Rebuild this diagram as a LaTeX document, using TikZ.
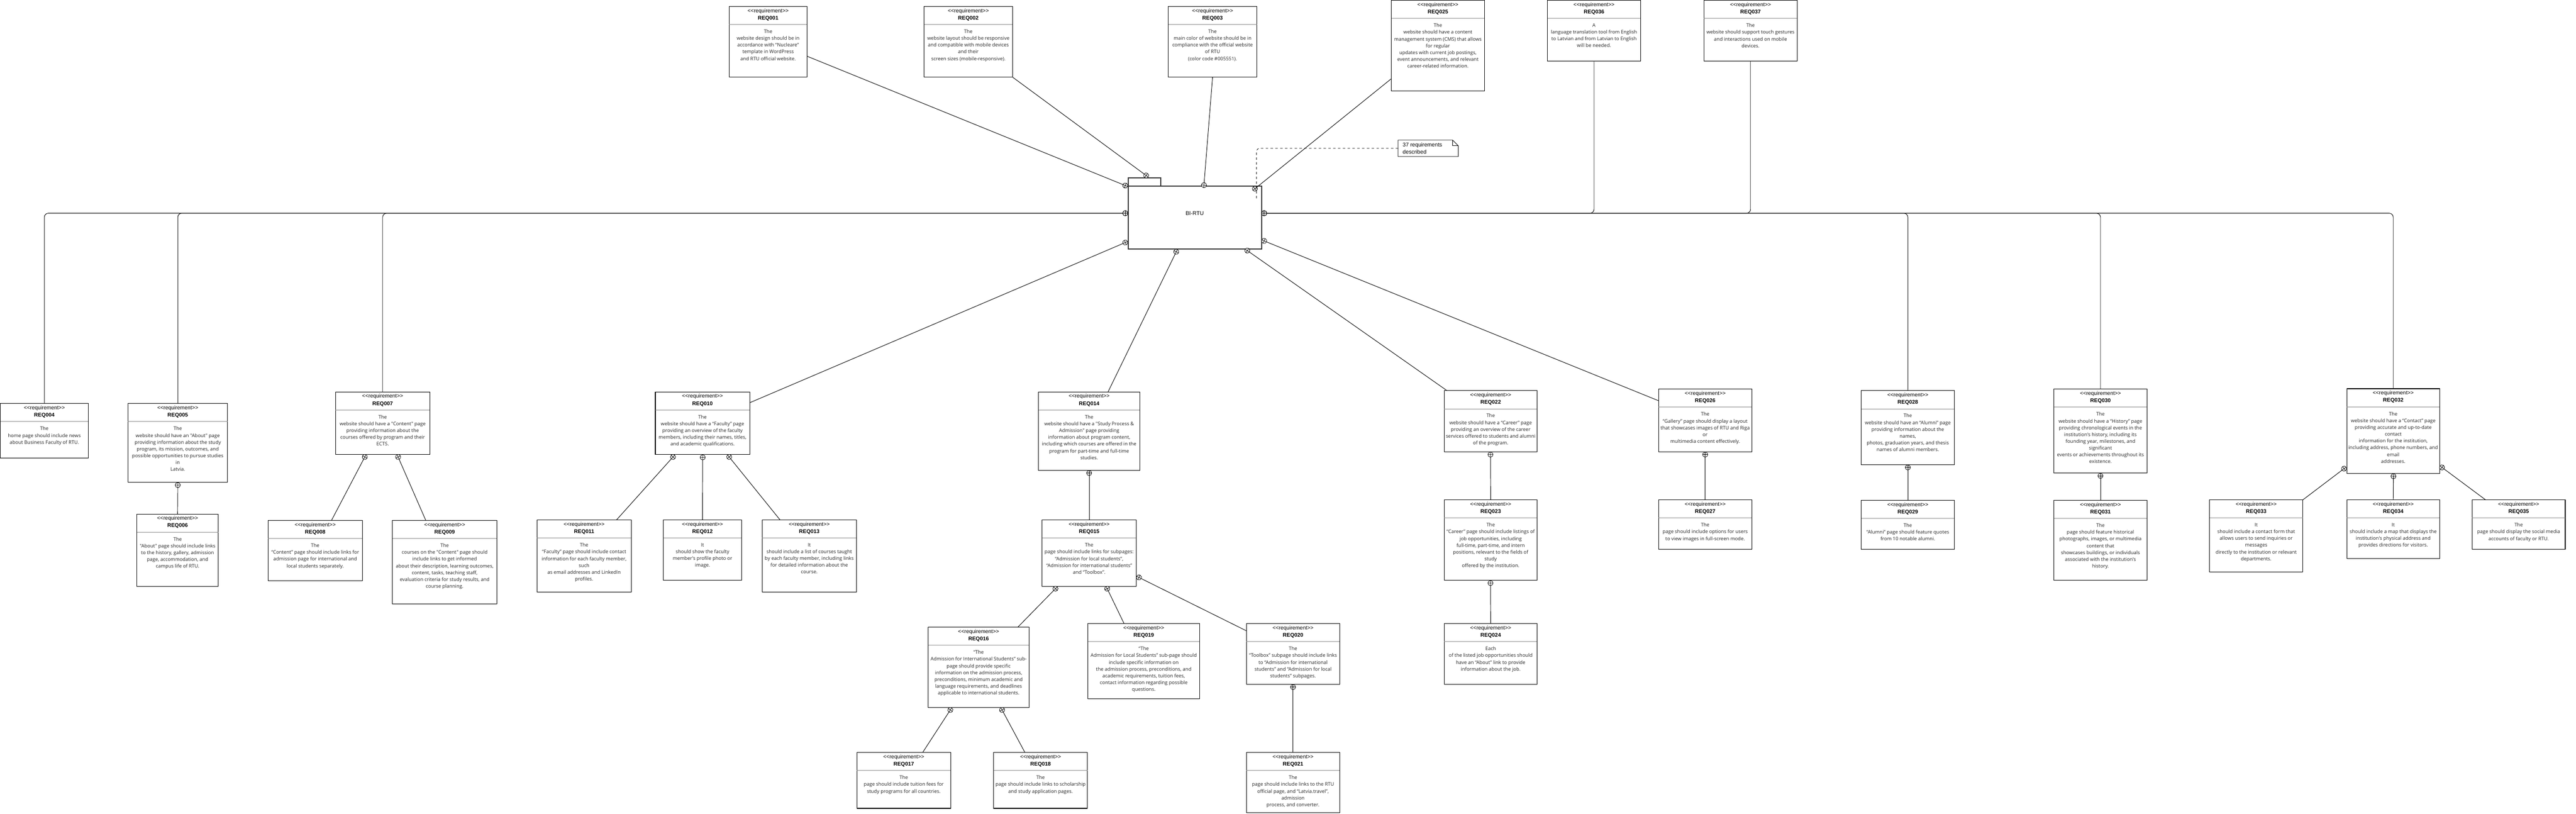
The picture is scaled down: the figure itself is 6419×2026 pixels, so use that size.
\documentclass[tikz,border=0pt]{standalone}
\usepackage{fontspec}
\setmainfont{Liberation Sans}[Ligatures=TeXOff]
\newfontfamily\bodyfont{Open Sans}[Ligatures=TeXOff]
\usetikzlibrary{calc,decorations.markings}
\tikzset{
 rq/.style={draw=black, line width=0.7pt, fill=white, inner sep=0pt, outer sep=0pt},
 rqsep/.style={draw=black!45, line width=0.6pt},
 rqhead/.style={font=\fontsize{6.65pt}{8pt}\selectfont, inner sep=0pt, anchor=base},
 rqname/.style={font=\fontsize{6.65pt}{8pt}\selectfont\bfseries, inner sep=0pt, anchor=base},
 rqbody/.style={font=\bodyfont\fontsize{6.05pt}{8.45pt}\selectfont, align=center, inner sep=0pt, anchor=north, text=black!85},
 contain/.style={draw=black, line width=0.6pt, postaction={decorate},
   decoration={markings, mark=at position 0 with {\draw[black, fill=white, line width=0.5pt] (0,0) circle (3.2pt); \draw[black, line width=0.5pt] (-3.2pt,0) -- (3.2pt,0) (0,-3.2pt) -- (0,3.2pt);}}},
 bus/.style={contain, rounded corners=5pt},
 sysbox/.style={draw=black!80, line width=1.3pt, fill=white, inner sep=0pt, outer sep=0pt},
 notelink/.style={draw=black, line width=0.5pt, dashed, rounded corners=4pt},
}
\newcommand\req[7]{%
  \node[rq, anchor=north west, minimum width=#4*0.5pt, minimum height=#5*0.5pt] (#1) at (#2,#3) {};
  \draw[rqsep] ([yshift=-22.5pt]#1.north west) -- ([yshift=-22.5pt]#1.north east);
  \node[rqhead] at ([yshift=-7.5pt]#1.north) {<<requirement>>};
  \node[rqname] at ([yshift=-16.6pt]#1.north) {#6};
  \node[rqbody] at ([yshift=-28.6pt]#1.north) {#7};
}
\begin{document}
\begin{tikzpicture}[x=0.5pt, y=-0.5pt]
\useasboundingbox[fill=white] (0,0) rectangle (6419,2026);

% central block
\node[sysbox, anchor=south west, minimum width=40.5pt, minimum height=10pt] (bitab) at (2811,463) {};
\node[sysbox, anchor=north west, minimum width=166.5pt, minimum height=78.5pt] (bi) at (2811,463) {};
\node[font=\fontsize{6.8pt}{8pt}\selectfont, inner sep=0pt] (bilabel) at (2977,531) {BI-RTU};

% note
\node[anchor=north west, minimum width=74.5pt, minimum height=20pt, inner sep=0pt] (note) at (3484,349) {};
\draw[line width=0.5pt, fill=white] (note.north west) -- ($(note.north east)+(-14,0)$) -- ($(note.north east)+(0,14)$) -- (note.south east) -- (note.south west) -- cycle;
\draw[line width=0.5pt] ($(note.north east)+(-14,0)$) |- ($(note.north east)+(0,14)$);
\node[anchor=west, align=left, inner sep=0pt, font=\fontsize{6.8pt}{8.5pt}\selectfont] (notetext) at ($(note.west)+(11,0)$) {37 requirements\\described};
\coordinate (noteend) at (3131,495);

% top row
\req{REQ001}{1817}{16}{194}{176}{REQ001}{The\\website design should be in\\accordance with “Nucleare”\\template in WordPress\\and RTU official website.}
\req{REQ002}{2303}{16}{220}{176}{REQ002}{The\\website layout should be responsive\\and compatible with mobile devices\\and their\\screen sizes (mobile-responsive).}
\req{REQ003}{2911}{16}{221}{176}{REQ003}{The\\main color of website should be in\\compliance with the official website\\of RTU\\(color code \#005551).}
\req{REQ025}{3467}{1}{232}{225}{REQ025}{The\\website should have a content\\management system (CMS) that allows\\for regular\\updates with current job postings,\\event announcements, and relevant\\career-related information.}
\req{REQ036}{3856}{1}{232}{151}{REQ036}{A\\language translation tool from English\\to Latvian and from Latvian to English\\will be needed.}
\req{REQ037}{4246}{1}{232}{151}{REQ037}{The\\website should support touch gestures\\and interactions used on mobile\\devices.}

% left group
\req{REQ004}{1}{1005}{219}{136}{REQ004}{The\\home page should include news\\about Business Faculty of RTU.}
\req{REQ005}{319}{1005}{248}{196}{REQ005}{The\\website should have an "About" page\\providing information about the study\\program, its mission, outcomes, and\\possible opportunities to pursue studies\\in\\Latvia.}
\req{REQ006}{341}{1280}{203}{180}{REQ006}{The\\"About" page should include links\\to the history, gallery, admission\\page, accommodation, and\\campus life of RTU.}
\req{REQ007}{836}{976}{235}{156}{REQ007}{The\\website should have a "Content" page\\providing information about the\\courses offered by program and their\\ECTS.}
\req{REQ008}{668}{1296}{235}{150}{REQ008}{The\\“Content” page should include links for\\admission page for international and\\local students separately.}
\req{REQ009}{978}{1296}{260}{208}{REQ009}{The\\courses on the "Content" page should\\include links to get informed\\about their description, learning outcomes,\\content, tasks, teaching staff,\\evaluation criteria for study results, and\\course planning.}

% faculty group
\req{REQ010}{1633}{976}{235}{156}{REQ010}{The\\website should have a “Faculty” page\\providing an overview of the faculty\\members, including their names, titles,\\and academic qualifications.}
\req{REQ011}{1338}{1295}{235}{179}{REQ011}{The\\“Faculty” page should include contact\\information for each faculty member,\\such\\as email addresses and LinkedIn\\profiles.}
\req{REQ012}{1653}{1295}{195}{150}{REQ012}{It\\should show the faculty\\member’s profile photo or\\image.}
\req{REQ013}{1899}{1295}{235}{179}{REQ013}{It\\should include a list of courses taught\\by each faculty member, including links\\for detailed information about the\\course.}

% study process group
\req{REQ014}{2588}{976}{252}{195}{REQ014}{The\\website should have a "Study Process \&\\Admission" page providing\\information about program content,\\including which courses are offered in the\\program for part-time and full-time\\studies.}
\req{REQ015}{2597}{1295}{234}{165}{REQ015}{The\\page should include links for subpages:\\“Admission for local students”,\\“Admission for international students”\\and “Toolbox”.}
\req{REQ016}{2313}{1562}{251}{200}{REQ016}{“The\\Admission for International Students” sub-\\page should provide specific\\information on the admission process,\\preconditions, minimum academic and\\language requirements, and deadlines\\applicable to international students.}
\req{REQ017}{2135}{1874}{234}{139}{REQ017}{The\\page should include tuition fees for\\study programs for all countries.}
\req{REQ018}{2476}{1874}{234}{139}{REQ018}{The\\page should include links to scholarship\\and study application pages.}
\req{REQ019}{2711}{1553}{278}{187}{REQ019}{“The\\Admission for Local Students” sub-page should\\include specific information on\\the admission process, preconditions, and\\academic requirements, tuition fees,\\contact information regarding possible\\questions.}
\req{REQ020}{3106}{1553}{232}{151}{REQ020}{The\\“Toolbox” subpage should include links\\to “Admission for international\\students” and “Admission for local\\students” subpages.}
\req{REQ021}{3106}{1874}{232}{150}{REQ021}{The\\page should include links to the RTU\\official page, and “Latvia.travel”,\\admission\\process, and converter.}

% career group
\req{REQ022}{3599}{973}{231}{152}{REQ022}{The\\website should have a “Career” page\\providing an overview of the career\\services offered to students and alumni\\of the program.}
\req{REQ023}{3599}{1245}{231}{200}{REQ023}{The\\“Career” page should include listings of\\job opportunities, including\\full-time, part-time, and intern\\positions, relevant to the fields of\\study\\offered by the institution.}
\req{REQ024}{3599}{1553}{231}{151}{REQ024}{Each\\of the listed job opportunities should\\have an “About” link to provide\\information about the job.}

% gallery group
\req{REQ026}{4133}{969}{232}{156}{REQ026}{The\\“Gallery” page should display a layout\\that showcases images of RTU and Riga\\or\\multimedia content effectively.}
\req{REQ027}{4133}{1245}{232}{123}{REQ027}{The\\page should include options for users\\to view images in full-screen mode.}

% alumni / history
\req{REQ028}{4638}{973}{232}{184}{REQ028}{The\\website should have an “Alumni” page\\providing information about the\\names,\\photos, graduation years, and thesis\\names of alumni members.}
\req{REQ029}{4638}{1246}{232}{122}{REQ029}{The\\“Alumni” page should feature quotes\\from 10 notable alumni.}
\req{REQ030}{5118}{969}{232}{209}{REQ030}{The\\website should have a “History” page\\providing chronological events in the\\institution's history, including its\\founding year, milestones, and\\significant\\events or achievements throughout its\\existence.}
\req{REQ031}{5118}{1246}{232}{199}{REQ031}{The\\page should feature historical\\photographs, images, or multimedia\\content that\\showcases buildings, or individuals\\associated with the institution's\\history.}

% contact group
\req{REQ032}{5848}{968}{231}{211}{REQ032}{The\\website should have a “Contact” page\\providing accurate and up-to-date\\contact\\information for the institution,\\including address, phone numbers, and\\email\\addresses.}
\req{REQ033}{5506}{1245}{232}{179}{REQ033}{It\\should include a contact form that\\allows users to send inquiries or\\messages\\directly to the institution or relevant\\departments.}
\req{REQ034}{5848}{1245}{231}{146}{REQ034}{It\\should include a map that displays the\\institution's physical address and\\provides directions for visitors.}
\req{REQ035}{6160}{1245}{232}{123}{REQ035}{The\\page should display the social media\\accounts of faculty or RTU.}

% ports
\coordinate (pTL) at (2804,462);
\coordinate (pTab) at (2856,437);
\coordinate (pTop) at (3000,461);
\coordinate (pTR) at (3127,470);
\coordinate (pL) at (2804,531);
\coordinate (pR) at (3150,531);
\coordinate (pLB) at (2804,604);
\coordinate (pB) at (2931,627);
\coordinate (pBR) at (3108,624);
\coordinate (pRB) at (3150,600);
\coordinate (p005) at (443,1208);
\coordinate (p007a) at (909,1138);
\coordinate (p007b) at (992,1138);
\coordinate (p010a) at (1677,1138);
\coordinate (p010b) at (1751,1139);
\coordinate (p010c) at (1817,1138);
\coordinate (p014) at (2714,1178);
\coordinate (p015a) at (2630,1466);
\coordinate (p015b) at (2759,1466);
\coordinate (p015c) at (2838,1438);
\coordinate (p016a) at (2368,1768);
\coordinate (p016b) at (2497,1768);
\coordinate (p020) at (3222,1711);
\coordinate (p022) at (3714,1132);
\coordinate (p023) at (3714,1452);
\coordinate (p026) at (4249,1132);
\coordinate (p028) at (4754,1164);
\coordinate (p030) at (5234,1185);
\coordinate (p032a) at (5841,1167);
\coordinate (p032b) at (5964,1186);
\coordinate (p032c) at (6085,1164);

% connectors to the system block
\draw[contain] (pTL) -- ($(REQ001.north east)+(0,124)$);
\draw[contain] (pTab) -- (REQ002.south east);
\draw[contain] (pTop) -- (REQ003.south);
\draw[contain] (pTR) -- ($(REQ025.north west)+(0,195)$);
\draw[bus] (pR) -| (REQ036.south);
\draw[bus] (pR) -| (REQ037.south);
\draw[bus] (pR) -| (REQ028.north);
\draw[bus] (pR) -| (REQ030.north);
\draw[bus] (pR) -| (REQ032.north);
\draw[bus] (pL) -| (REQ004.north);
\draw[bus] (pL) -| (REQ005.north);
\draw[bus] (pL) -| (REQ007.north);
\draw[contain] (pLB) -- ($(REQ010.north east)+(0,27)$);
\draw[contain] (pB) -- ($(REQ014.north west)+(173,0)$);
\draw[contain] (pBR) -- ($(REQ022.north west)+(7,0)$);
\draw[contain] (pRB) -- ($(REQ026.north west)+(0,29)$);

% sub-requirement connectors
\draw[contain] (p005) -- (REQ006.north);
\draw[contain] (p007a) -- ($(REQ008.north west)+(158,0)$);
\draw[contain] (p007b) -- ($(REQ009.north west)+(83,0)$);
\draw[contain] (p010a) -- ($(REQ011.north west)+(198,0)$);
\draw[contain] (p010b) -- (REQ012.north);
\draw[contain] (p010c) -- ($(REQ013.north west)+(45,0)$);
\draw[contain] (p014) -- (REQ015.north);
\draw[contain] (p015a) -- ($(REQ016.north west)+(223,0)$);
\draw[contain] (p015b) -- ($(REQ019.north west)+(90,0)$);
\draw[contain] (p015c) -- ($(REQ020.north west)+(0,18)$);
\draw[contain] (p016a) -- ($(REQ017.north west)+(164,0)$);
\draw[contain] (p016b) -- ($(REQ018.north west)+(78,0)$);
\draw[contain] (p020) -- (REQ021.north);
\draw[contain] (p022) -- (REQ023.north);
\draw[contain] (p023) -- (REQ024.north);
\draw[contain] (p026) -- (REQ027.north);
\draw[contain] (p028) -- (REQ029.north);
\draw[contain] (p030) -- (REQ031.north);
\draw[contain] (p032a) -- (REQ033.north east);
\draw[contain] (p032b) -- (REQ034.north);
\draw[contain] (p032c) -- ($(REQ035.north west)+(34,0)$);

% note link
\draw[notelink] (note.west) -| (noteend);
\end{tikzpicture}
\end{document}
